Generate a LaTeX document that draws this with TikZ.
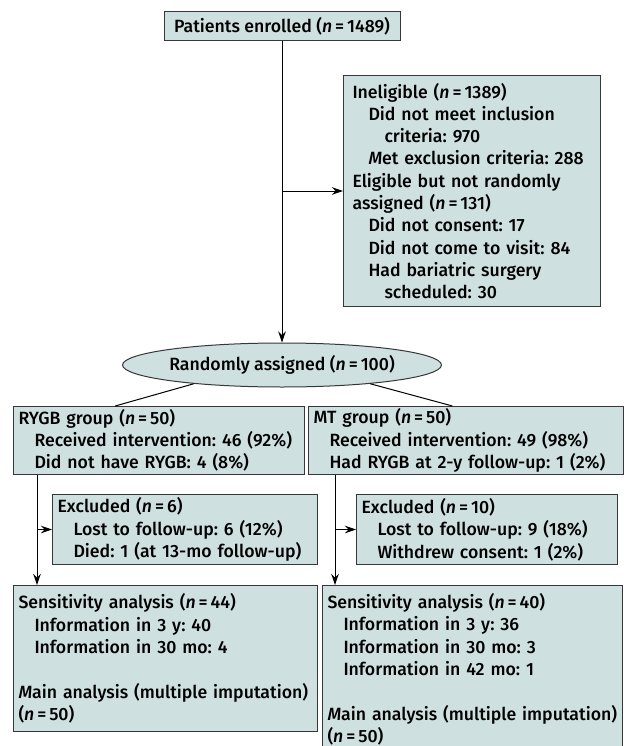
\documentclass[tikz,border=0pt]{standalone}
\usepackage{fontspec}
\setmainfont{Fira Sans}[UprightFont={* Medium}, ItalicFont={* Medium Italic}]
\usepackage{tikz}
\usetikzlibrary{arrows.meta,shapes.geometric,calc}

\definecolor{boxfill}{RGB}{207,224,225}
\definecolor{boxline}{RGB}{55,55,55}
\newcommand{\ind}{\hspace*{16pt}}
\newcommand{\nn}{\textit{n}\,=\,}
\frenchspacing
\hyphenpenalty=10000

\begin{document}
\begin{tikzpicture}[x=1pt, y=-1pt, >={Stealth[length=11pt,width=7.5pt]},
    flowbox/.style={draw=boxline, fill=boxfill, line width=1pt, anchor=north west, align=left,
        inner xsep=5pt, inner ysep=2pt, font=\fontsize{17.7}{22.3}\selectfont},
    link/.style={line width=1pt}]
    % Page frame
    \useasboundingbox (0,0) rectangle (627,746);

    % Enrollment
    \node[flowbox, anchor=center, align=center, minimum width=236pt, minimum height=29pt, inner xsep=0pt] (enrolled) at (282,26.5) {Patients enrolled (\nn 1489)};

    \node[flowbox, text width=239pt, inner xsep=9pt, minimum height=231pt] (inelig) at (343,75) {Ineligible (\nn 1389)\\
        \ind Did not meet inclusion\\
        \ind\ind criteria: 970\\
        \ind \textit{M}et exclusion criteria: 288\\
        Eligible but not randomly\\
        assigned (\nn 131)\\
        \ind Did not consent: 17\\
        \ind Did not come to visit: 84\\
        \ind Had bariatric surgery\\
        \ind\ind scheduled: 30};

    % Randomization
    \node[flowbox, ellipse, anchor=center, align=center, minimum width=288pt, minimum height=44pt, inner sep=0pt] (rand) at (282,365) {Randomly assigned (\nn 100)};

    % Groups
    \node[flowbox, text width=281pt, minimum height=68pt] (rygb) at (13,406) {RYGB group (\nn 50)\\
        \ind Received intervention: 46 (92\%)\\
        \ind Did not have RYGB: 4 (8\%)};
    \node[flowbox, text width=305pt, minimum height=68pt] (mt) at (308,406) {MT group (\nn 50)\\
        \ind Received intervention: 49 (98\%)\\
        \ind Had RYGB at 2-y follow-up: 1 (2\%)};

    % Exclusions
    \node[flowbox, text width=255pt, minimum height=70pt] (exclL) at (52,494) {Excluded (\nn 6)\\
        \ind Lost to follow-up: 6 (12\%)\\
        \ind Died: 1 (at 13-mo follow-up)};
    \node[flowbox, text width=251pt, minimum height=70pt] (exclR) at (356,494) {Excluded (\nn 10)\\
        \ind Lost to follow-up: 9 (18\%)\\
        \ind Withdrew consent: 1 (2\%)};

    % Analysis
    \node[flowbox, text width=294pt, minimum height=146pt] (sensL) at (13,585) {Sensitivity analysis (\nn 44)\\
        \ind Information in 3 y: 40\\
        \ind Information in 30 mo: 4\\[22.3pt]
        \textit{M}ain analysis (multiple imputation)\\
        (\nn 50)};
    \node[flowbox, text width=290pt, inner ysep=8pt] (sensR) at (322,585) {Sensitivity analysis (\nn 40)\\
        \ind Information in 3 y: 36\\
        \ind Information in 30 mo: 3\\
        \ind Information in 42 mo: 1\\[22.3pt]
        \textit{M}ain analysis (multiple imputation)\\
        (\nn 50)};

    % Connectors
    \draw[link, ->] (enrolled) -- (rand);
    \draw[link, ->] (enrolled.south |- inelig.west) -- (inelig.west);
    \draw[link] (rand.192) -- ($(rygb.north west)!0.35!(rygb.north east)$);
    \draw[link] (rand.348) -- ($(mt.north west)!0.457!(mt.north east)$);

    \coordinate (dropL) at ($(rygb.south west)+(24,0)$);
    \coordinate (dropR) at ($(mt.south west)+(27,0)$);
    \draw[link, ->] (dropL) -- (dropL |- sensL.north);
    \draw[link, ->] (dropL |- exclL.west) -- (exclL.west);
    \draw[link, ->] (dropR) -- (dropR |- sensR.north);
    \draw[link, ->] (dropR |- exclR.west) -- (exclR.west);
\end{tikzpicture}
\end{document}
